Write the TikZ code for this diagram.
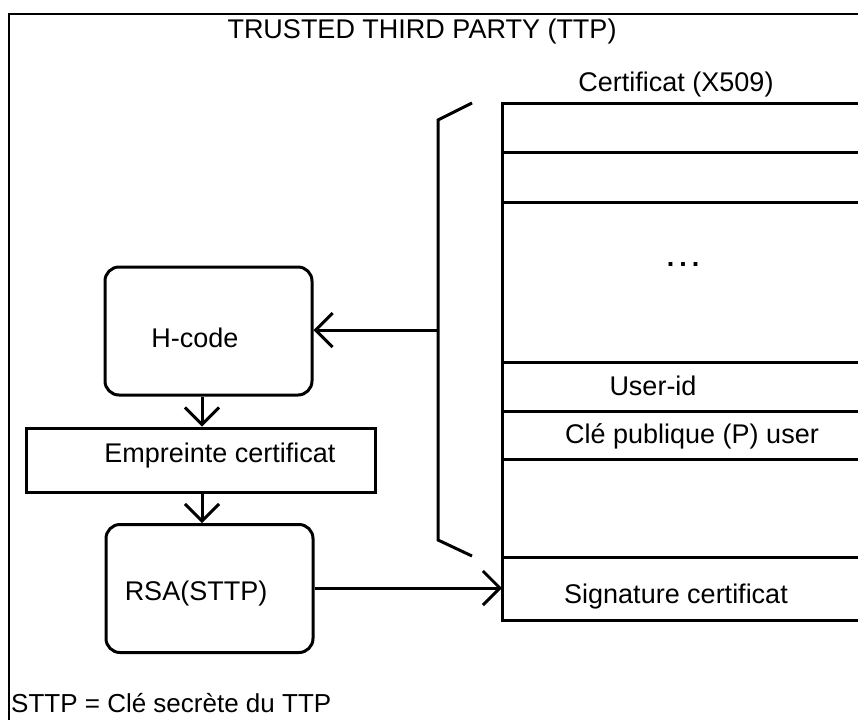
\documentclass[tikz,border=0pt]{standalone}
\usepackage{fontspec}
\setmainfont{Liberation Sans}
\usetikzlibrary{arrows.meta,calc}
\begin{document}
\begin{tikzpicture}[x=1pt,y=-1pt,
  every node/.style={font=\fontsize{27}{32}\selectfont},
  ln/.style={line width=3pt},
  frame/.style={line width=2pt},
  rbox/.style={draw,line width=3pt,rounded corners=14pt,minimum width=207pt,minimum height=128pt,inner sep=0pt},
  sbox/.style={draw,line width=3pt,minimum width=349pt,minimum height=64pt,inner sep=0pt},
  txt/.style={anchor=base,inner sep=0pt},
  arr/.style={line width=3pt,-{Straight Barb[length=17pt,width=34pt]}}
]
\useasboundingbox (0,0) rectangle (858,720);
% outer frame
\draw[frame] (858,14) -- (9,14) -- (9,720);
\node[txt] (title) at (422,38) {TRUSTED THIRD PARTY (TTP)};

% certificate
\node[txt] (certt) at (676,91) {Certificat (X509)};
\draw[ln] (858,103) -- (502,103) -- (502,620) -- (858,620);
\foreach \yy in {152,202,362,411,459,557} \draw[ln] (502,\yy) -- (858,\yy);
\node[txt] (dots) at (683,266) {\bfseries .\hspace{5pt}.\hspace{5pt}.};
\node[txt] (uid) at (653,395) {User-id};
\node[txt] (pub) at (692,443) {Clé publique (P) user};
\node[txt] (sig) at (676,603) {Signature certificat};

% brace
\draw[ln] (472,103) -- (438,120) -- (438,540) -- (472,556);
\coordinate (bmid) at (438,330);
\coordinate (sigin) at (502,588);
\coordinate (ax) at (202,0);

% left boxes
\node[rbox] (hcode) at (208.5,331) {};
\node[txt] at (195,347) {H-code};
\node[sbox] (emp) at (200.5,460) {};
\node[txt] at (220,462) {Empreinte certificat};
\node[rbox] (rsa) at (209.5,588.5) {};
\node[txt] at (196,600) {RSA(STTP)};

% connectors
\draw[arr] (bmid) -- (hcode.east |- bmid);
\draw[arr] (hcode.south -| ax) -- (emp.north -| ax);
\draw[arr] (emp.south -| ax) -- (rsa.north -| ax);
\draw[arr] (rsa.east |- sigin) -- (sigin);

\node[anchor=base west,inner sep=0pt,font=\fontsize{26}{31}\selectfont] (note) at (11,712) {STTP = Clé secrète du TTP};
\end{tikzpicture}
\end{document}
